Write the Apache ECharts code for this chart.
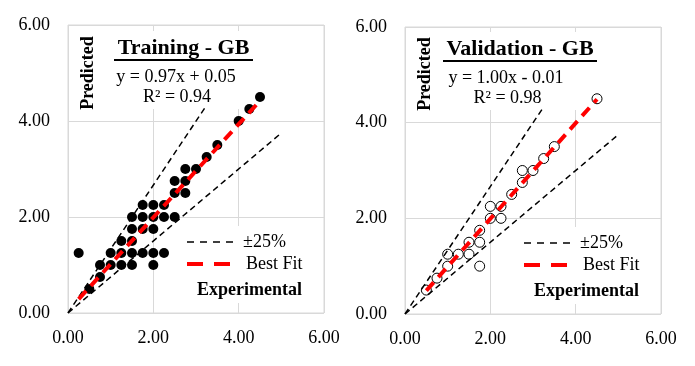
<!DOCTYPE html>
<html>
<head>
<meta charset="utf-8">
<script src="https://cdn.jsdelivr.net/npm/echarts@6/dist/echarts.min.js"></script>
<style>html,body{margin:0;padding:0;background:#fff}#c{width:695px;height:366px}</style>
</head>
<body>
<div id="c"></div>
<script>
// ---- data ----
var axisTicks = [0, 2, 4, 6];
var trainingPoints = [
  [4.5,4.5],[4.25,4.25],[4.0,4.0],[3.5,3.5],[3.25,3.25],
  [2.75,3.0],[3.0,3.0],[2.5,2.75],[2.75,2.75],[2.5,2.5],[2.75,2.5],
  [1.75,2.25],[2.0,2.25],[2.25,2.25],
  [1.5,2.0],[1.75,2.0],[2.0,2.0],[2.25,2.0],[2.5,2.0],
  [1.5,1.75],[1.75,1.75],[2.0,1.75],
  [1.25,1.5],[1.5,1.5],
  [0.25,1.25],[1.0,1.25],[1.25,1.25],[1.5,1.25],[1.75,1.25],[2.0,1.25],[2.25,1.25],
  [0.75,1.0],[1.0,1.0],[1.25,1.0],[1.5,1.0],[2.0,1.0],
  [0.75,0.75],[0.5,0.5]
];
var validationPoints = [
  [4.5,4.5],[3.5,3.5],[3.25,3.25],[2.75,3.0],[3.0,3.0],[2.75,2.75],[2.5,2.5],
  [2.0,2.25],[2.25,2.25],[2.0,2.0],[2.25,2.0],[1.75,1.75],[1.75,1.5],[1.5,1.5],
  [1.0,1.25],[1.25,1.25],[1.5,1.25],[1.75,1.0],[1.0,1.0],[0.75,0.75],[0.5,0.5]
];
var upperBound = [[0,0],[3.25,4.33]];
var lowerBound = [[0,0],[5.0,3.75]];
var trainingFit = [[0.25,0.29],[4.5,4.42]];
var validationFit = [[0.5,0.49],[4.5,4.49]];
var titles = ['Training - GB', 'Validation - GB'];
var equations = ['y = 0.97x + 0.05', 'y = 1.00x - 0.01'];
var r2Labels = ['R\u00B2 = 0.94', 'R\u00B2 = 0.98'];

// ---- chart ----
var FONT = 'Liberation Serif, Times New Roman, serif';
var chart = echarts.init(document.getElementById('c'), null, {renderer:'canvas'});

function axis(gi, isX){
  return {
    type:'value', gridIndex:gi, min:axisTicks[0], max:axisTicks[axisTicks.length-1],
    interval:axisTicks[1]-axisTicks[0],
    axisLine:{show:false}, axisTick:{show:false},
    splitLine:{show:true, lineStyle:{color:'#d9d9d9', width:1}},
    axisLabel:{color:'#000', fontFamily:FONT, fontSize:18, margin: isX ? 16 : 18,
      formatter:function(v){return v.toFixed(2);}}
  };
}

var grids = [
  {left:68, top:25, width:256, height:288},
  {left:405, top:27, width:256, height:287}
];

function seriesFor(gi, pts, fit, hollow){
  return [
    {type:'scatter', xAxisIndex:gi, yAxisIndex:gi, data:pts, symbol:'circle', symbolSize:10,
      itemStyle: hollow ? {color:'#fff', borderColor:'#000', borderWidth:1, opacity:1} : {color:'#000', opacity:1},
      z:3, silent:true},
    {type:'line', xAxisIndex:gi, yAxisIndex:gi, data:upperBound, symbol:'none',
      lineStyle:{color:'#000', width:1.5, type:[6,4]}, z:4, silent:true},
    {type:'line', xAxisIndex:gi, yAxisIndex:gi, data:lowerBound, symbol:'none',
      lineStyle:{color:'#000', width:1.5, type:[6,4]}, z:4, silent:true},
    {type:'line', xAxisIndex:gi, yAxisIndex:gi, data:fit, symbol:'none',
      lineStyle:{color:'#ff0000', width:4, type:[11,7]}, z:5, silent:true}
  ];
}

function overlay(dx, dy, gi){
  var els = [];
  els.push({type:'rect', shape:{x:108+dx, y:31+dy, width:145, height:78}, style:{fill:'#fff'}, z:1});
  els.push({type:'rect', shape:{x:183+dx, y:226+dy, width:135, height:77}, style:{fill:'#fff'}, z:1});
  els.push({type:'text', x:88.5+dx, y:73+dy, rotation:Math.PI/2, z:6,
    style:{text:'Predicted', font:'bold 18px '+FONT, fill:'#000', align:'center', verticalAlign:'middle'}});
  els.push({type:'text', x:(gi===0?183.5:520), y:48+dy, z:6,
    style:{text:titles[gi], font:'bold 22px '+FONT, fill:'#000', align:'center', verticalAlign:'middle'}});
  els.push({type:'rect', shape:(gi===0?{x:114, y:59+dy, width:139, height:2}:{x:443, y:59+dy, width:154, height:2}), style:{fill:'#000'}, z:6});
  els.push({type:'text', x:(gi===0?176:506), y:77+dy, z:6,
    style:{text:equations[gi], font:'18px '+FONT, fill:'#000', align:'center', verticalAlign:'middle'}});
  els.push({type:'text', x:(gi===0?177:507.5), y:97+dy, z:6,
    style:{text:r2Labels[gi], font:'18px '+FONT, fill:'#000', align:'center', verticalAlign:'middle'}});
  els.push({type:'line', shape:{x1:187+dx, y1:242+dy, x2:237+dx, y2:242+dy}, z:6,
    style:{stroke:'#000', lineWidth:1.5, lineDash:[7,6]}});
  els.push({type:'text', x:243+dx, y:242+dy, z:6,
    style:{text:'\u00B125%', font:'18px '+FONT, fill:'#000', align:'left', verticalAlign:'middle'}});
  els.push({type:'line', shape:{x1:187+dx, y1:264+dy, x2:235+dx, y2:264+dy}, z:6,
    style:{stroke:'#ff0000', lineWidth:4, lineDash:[16,11]}});
  els.push({type:'text', x:246+dx, y:264+dy, z:6,
    style:{text:'Best Fit', font:'18px '+FONT, fill:'#000', align:'left', verticalAlign:'middle'}});
  els.push({type:'text', x:249.5+dx, y:290+dy, z:6,
    style:{text:'Experimental', font:'bold 18px '+FONT, fill:'#000', align:'center', verticalAlign:'middle'}});
  return els;
}

var option = {
  animation:false,
  backgroundColor:'#fff',
  grid: grids.map(function(g){return Object.assign({show:true, borderColor:'#d9d9d9', borderWidth:1, backgroundColor:'transparent'}, g);}),
  xAxis:[axis(0,true), axis(1,true)],
  yAxis:[axis(0,false), axis(1,false)],
  series: [].concat(seriesFor(0, trainingPoints, trainingFit, false), seriesFor(1, validationPoints, validationFit, true)),
  graphic: { elements: overlay(0,0,0).concat(overlay(337,1,1)) }
};
chart.setOption(option);
</script>
</body>
</html>
